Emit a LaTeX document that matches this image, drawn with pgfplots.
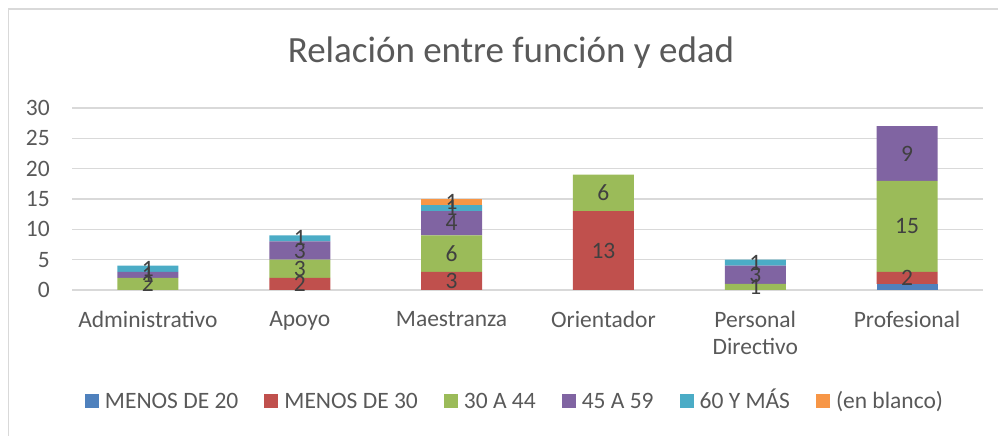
\documentclass[border=0pt]{standalone}
\usepackage{pgfplots}
\pgfplotsset{compat=1.18}
\usepackage{pgfplotstable}
\usepackage{fontspec}
\setmainfont{Carlito}
\definecolor{cA}{HTML}{4F81BD}
\definecolor{cB}{HTML}{C0504D}
\definecolor{cC}{HTML}{9BBB59}
\definecolor{cD}{HTML}{8064A2}
\definecolor{cE}{HTML}{4BACC6}
\definecolor{cF}{HTML}{F79646}
\definecolor{txt}{HTML}{595959}
\definecolor{lbl}{HTML}{404040}
\definecolor{grd}{HTML}{D9D9D9}
\pgfplotstableread{
x m20 m30 a3044 a4559 a60 blanco
0 0 0  2  1 1 0
1 0 2  3  3 1 0
2 0 3  6  4 1 1
3 0 13 6  0 0 0
4 0 0  1  3 1 0
5 1 2  15 9 0 0
}\datos
\pgfplotsset{
  base/.style={
    at={(72pt,146pt)}, anchor=south west,
    scale only axis, width=911pt, height=182pt,
    xmin=-0.5, xmax=5.5, ymin=0, ymax=30,
  },
  lab/.style={
    only marks, mark=none,
    point meta=explicit,
    nodes near coords={\pgfmathfloatifflags{\pgfplotspointmeta}{0}{}{\pgfmathprintnumber{\pgfplotspointmeta}}},
    every node near coord/.append style={anchor=center, inner sep=0pt,
      font=\fontsize{23.5}{27}\selectfont, text=lbl},
  }
}
\begin{document}
\begin{tikzpicture}
\useasboundingbox (0,0) rectangle (998pt,436pt);
\draw[grd, line width=1.5pt] (8.5pt,0pt) -- (8.5pt,427pt) -- (998pt,427pt);
\node[font=\fontsize{37}{44}\selectfont, text=txt] at (511pt,383pt) {Relación entre función y edad};
\begin{axis}[base, ybar stacked, bar width=61pt,
  axis line style={draw=none}, major tick length=0pt,
  ymajorgrids, grid style={grd, line width=1.2pt},
  ytick={0,5,...,30}, xtick={0,...,5},
  xticklabels={Administrativo,Apoyo,Maestranza,Orientador,{Personal\\Directivo},Profesional},
  ticklabel style={text=txt, font=\fontsize{23.5}{27}\selectfont, inner sep=0pt},
  yticklabel style={anchor=east, xshift=-22pt},
  xticklabel style={anchor=north, yshift=-21pt, align=center},
  /pgf/number format/assume math mode=true,
  legend style={at={(0.4863,-0.621)}, anchor=center, draw=none, fill=none,
    legend columns=6, font=\fontsize{23.5}{28}\selectfont, text=txt,
    nodes={text height=16pt, text depth=5pt},
    /tikz/every odd column/.append style={column sep=4pt},
    /tikz/every even column/.append style={column sep=24pt}},
  legend image code/.code={\fill[#1] (0pt,-5pt) rectangle (14pt,9pt);},
]
\addplot[fill=cA, draw=none] table[x=x,y=m20]{\datos};
\addplot[fill=cB, draw=none] table[x=x,y=m30]{\datos};
\addplot[fill=cC, draw=none] table[x=x,y=a3044]{\datos};
\addplot[fill=cD, draw=none] table[x=x,y=a4559]{\datos};
\addplot[fill=cE, draw=none] table[x=x,y=a60]{\datos};
\addplot[fill=cF, draw=none] table[x=x,y=blanco]{\datos};
\legend{MENOS DE 20, MENOS DE 30, 30 A 44, 45 A 59, 60 Y MÁS, (en blanco)}
\end{axis}
\begin{axis}[base, hide axis, /pgf/number format/assume math mode=true]
\addplot[lab] table[x=x, y expr=\thisrow{m20}+\thisrow{m30}/2, meta=m30]{\datos};
\addplot[lab] table[x=x, y expr=\thisrow{m20}+\thisrow{m30}+\thisrow{a3044}/2, meta=a3044]{\datos};
\addplot[lab] table[x=x, y expr=\thisrow{m20}+\thisrow{m30}+\thisrow{a3044}+\thisrow{a4559}/2, meta=a4559]{\datos};
\addplot[lab] table[x=x, y expr=\thisrow{m20}+\thisrow{m30}+\thisrow{a3044}+\thisrow{a4559}+\thisrow{a60}/2, meta=a60]{\datos};
\addplot[lab] table[x=x, y expr=\thisrow{m20}+\thisrow{m30}+\thisrow{a3044}+\thisrow{a4559}+\thisrow{a60}+\thisrow{blanco}/2, meta=blanco]{\datos};
\end{axis}
\end{tikzpicture}
\end{document}
